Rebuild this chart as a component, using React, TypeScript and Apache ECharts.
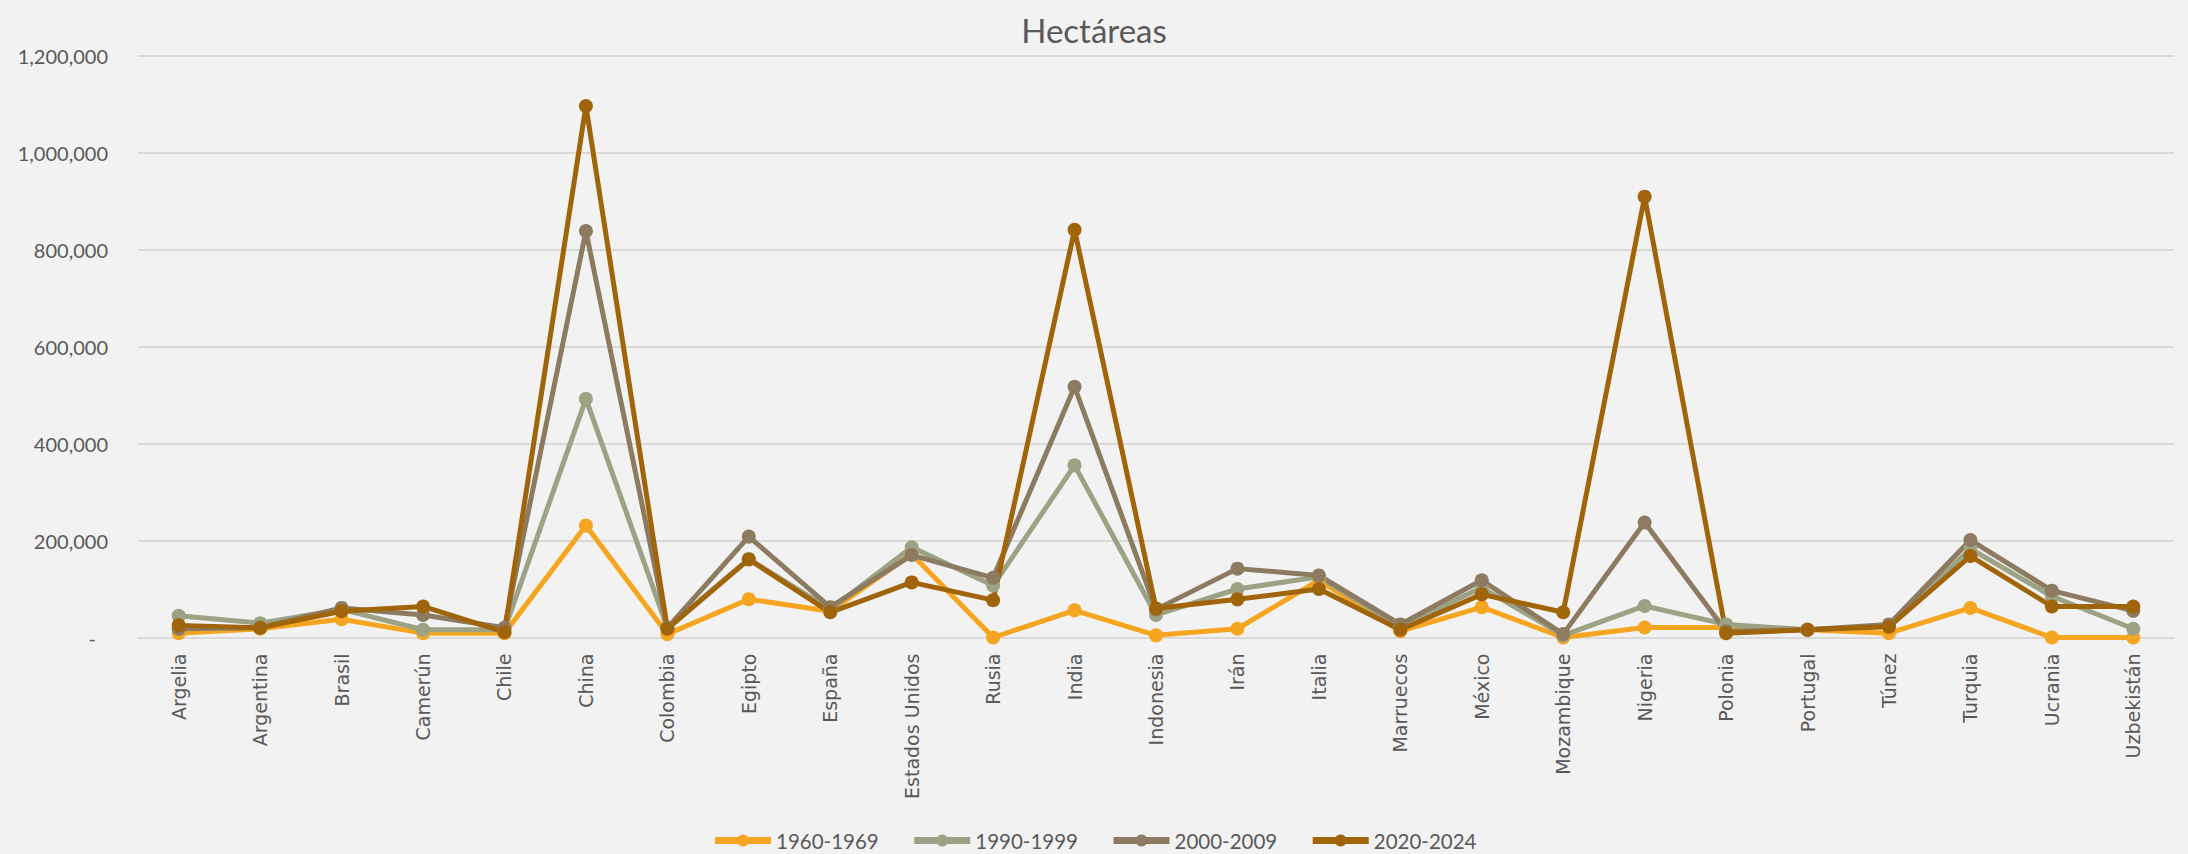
import React, { useEffect, useRef } from "react";
import * as echarts from "echarts";

const categories = [
  "Argelia", "Argentina", "Brasil", "Camerún", "Chile", "China", "Colombia", "Egipto", "España",
  "Estados Unidos", "Rusia", "India", "Indonesia", "Irán", "Italia", "Marruecos", "México",
  "Mozambique", "Nigeria", "Polonia", "Portugal", "Túnez", "Turquia", "Ucrania", "Uzbekistán",
];

const s1960 = [9000, 18000, 37500, 9000, 9000, 231000, 7000, 79000, 54000, 172000, 0, 56000, 4500, 18000, 118000, 13000, 62600, 0, 20500, 20500, 16000, 9000, 61000, 0, 0];
const s1990 = [44700, 29500, 58000, 16000, 16000, 492000, 20000, 162000, 58000, 186000, 107000, 355000, 46500, 100000, 125000, 22000, 103000, 4500, 65000, 27000, 16000, 24000, 183000, 85000, 18000];
const s2000 = [18000, 20000, 61000, 46500, 20000, 838000, 20000, 208000, 62600, 170000, 123000, 517000, 58000, 142000, 128000, 27000, 118000, 7000, 237000, 13000, 16000, 27000, 201000, 96600, 55000];
const s2020 = [25000, 20000, 54000, 64000, 11000, 1096000, 18000, 161000, 52000, 113600, 77000, 840500, 60000, 78700, 100000, 16000, 89000, 52000, 909000, 9000, 16000, 22000, 168000, 64000, 64000];

const seriesNames = ["1960-1969", "1990-1999", "2000-2009", "2020-2024"];
const seriesData = [s1960, s1990, s2000, s2020];
const colors = ["#F5A51F", "#9CA284", "#8C7B60", "#A0640A"];

const FONT = "Lato, 'Open Sans', sans-serif";

export default function App() {
  const ref = useRef<HTMLDivElement>(null);
  useEffect(() => {
    document.body.style.margin = "0";
    if (!ref.current) return;
    const chart = echarts.init(ref.current, undefined, { renderer: "svg" });
    chart.setOption({
      animation: false,
      backgroundColor: "#F2F2F2",
      color: colors,
      title: {
        text: "Hectáreas",
        left: "center",
        top: 8,
        textStyle: { fontFamily: FONT, fontSize: 33, fontWeight: "normal", color: "#595959" },
      },
      legend: {
        bottom: -2,
        left: "center",
        itemWidth: 56,
        itemHeight: 15,
        itemGap: 32,
        lineStyle: { width: 7 },
        textStyle: { fontFamily: FONT, fontSize: 20.5, color: "#595959" },
        data: seriesNames,
      },
      grid: { left: 138, right: 14, top: 55.5, bottom: 216.5, containLabel: false },
      xAxis: {
        type: "category",
        data: categories,
        boundaryGap: true,
        axisLine: { show: true, lineStyle: { color: "#D9D9D9", width: 2 } },
        axisTick: { show: false },
        axisLabel: {
          rotate: 90,
          margin: 16,
          interval: 0,
          fontFamily: "'DejaVu Sans', sans-serif",
          fontSize: 19,
          color: "#595959",
        },
      },
      yAxis: {
        type: "value",
        min: 0,
        max: 1200000,
        interval: 200000,
        axisLine: { show: false },
        axisTick: { show: false },
        splitLine: { lineStyle: { color: "#D9D9D9", width: 2 } },
        axisLabel: {
          margin: 30,
          fontFamily: FONT,
          fontSize: 20,
          color: "#595959",
          formatter: (v: number) => (v === 0 ? "{dash|-}" : v.toLocaleString("en-US")),
          rich: {
            dash: { fontFamily: FONT, fontSize: 20, color: "#595959", padding: [0, 12, 0, 0] },
          },
        },
      },
      series: seriesNames.map((name, i) => ({
        name,
        type: "line",
        data: seriesData[i],
        symbol: "circle",
        symbolSize: 14,
        lineStyle: { width: 5, color: colors[i] },
        itemStyle: { color: colors[i] },
      })),
    });
    return () => chart.dispose();
  }, []);
  return <div ref={ref} style={{ width: 2188, height: 854 }} />;
}
